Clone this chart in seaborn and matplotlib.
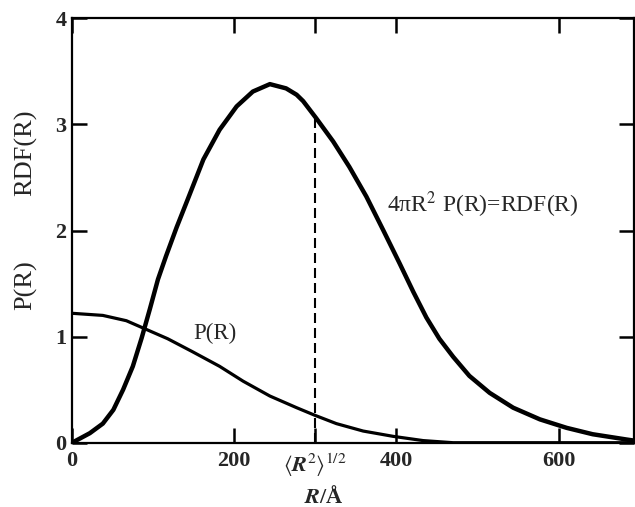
import matplotlib
matplotlib.use("Agg")
import matplotlib.pyplot as plt
import seaborn as sns
import pandas as pd

# RDF(R) = 4*pi*R^2*P(R) curve
rdf_R = [0, 5, 22, 38, 51, 63, 75, 86, 96, 106, 116, 129, 143, 162, 182, 203, 223,
         244, 264, 277, 285, 301, 322, 342, 363, 384, 404, 421, 437, 453, 470, 490, 515,
         544, 577, 610, 642, 684, 693]
rdf_val = [0.0, 0.02, 0.09, 0.18, 0.31, 0.50, 0.72, 0.99, 1.26, 1.54, 1.76, 2.03, 2.30,
           2.67, 2.95, 3.17, 3.31, 3.38, 3.34, 3.28, 3.22, 3.06, 2.84, 2.60, 2.32, 2.00,
           1.69, 1.42, 1.18, 0.98, 0.81, 0.63, 0.47, 0.33, 0.22, 0.14, 0.08, 0.03, 0.02]

# P(R) curve
p_R = [0, 38, 67, 88, 118, 148, 182, 211, 244, 277, 299, 326, 359, 396, 433, 470, 693]
p_val = [1.22, 1.20, 1.15, 1.08, 0.98, 0.86, 0.72, 0.58, 0.44, 0.33, 0.26, 0.18, 0.11,
         0.06, 0.02, 0.0, 0.0]

# dashed marker at <R^2>^{1/2}
rms_R = [300, 300]
rms_val = [0.0, 3.06]

x_ticks = [0, 200, 300, 400, 600]
x_ticklabels = ["0", "200", r"$\langle \boldsymbol{R}^{2}\rangle^{1/2}$", "400", "600"]
y_ticks = [0, 1, 2, 3, 4]
y_ticklabels = ["0", "1", "2", "3", "4"]

sns.set_style("ticks")
plt.rcParams["font.family"] = ["Liberation Serif", "DejaVu Serif"]
plt.rcParams["mathtext.fontset"] = "stix"

fig = plt.figure(figsize=(6.35, 5.07), dpi=100)
ax = fig.add_axes([0.1134, 0.1268, 0.885, 0.837])

df_rdf = pd.DataFrame({"R": rdf_R, "v": rdf_val})
df_p = pd.DataFrame({"R": p_R, "v": p_val})
df_rms = pd.DataFrame({"R": rms_R, "v": rms_val})

sns.lineplot(data=df_rdf, x="R", y="v", ax=ax, color="black", linewidth=3.2,
             estimator=None, sort=False, solid_joinstyle="round", solid_capstyle="round")
sns.lineplot(data=df_p, x="R", y="v", ax=ax, color="black", linewidth=2.3,
             estimator=None, sort=False, solid_joinstyle="round")
sns.lineplot(data=df_rms, x="R", y="v", ax=ax, color="black", linewidth=1.5,
             estimator=None, sort=False, linestyle=(0, (4.8, 2.4)))

ax.set_xlim(0, 693)
ax.set_ylim(0, 4)
ax.set_xlabel("")
ax.set_ylabel("")

ax.set_xticks(x_ticks)
ax.set_xticklabels(x_ticklabels, fontsize=16, fontweight="bold")
ax.set_yticks(y_ticks)
ax.set_yticklabels(y_ticklabels, fontsize=16, fontweight="bold")
ax.tick_params(axis="both", direction="in", length=10.5, width=1.8, color="black",
               top=True, right=True, pad=4)
ax.tick_params(axis="x", pad=6)
for s in ax.spines.values():
    s.set_visible(True)
    s.set_linewidth(1.6)
    s.set_color("black")

ax.text(389, 2.24, r"4πR$^{2}$ P(R)=RDF(R)", fontsize=17, va="center", ha="left")
ax.text(149, 1.03, "P(R)", fontsize=16.5, va="center", ha="left")

fig.text(0.040, 1 - 153 / 507, "RDF(R)", rotation=90, fontsize=19, va="center", ha="center")
fig.text(0.040, 1 - 285 / 507, "P(R)", rotation=90, fontsize=19, va="center", ha="center")
fig.text(324 / 635, 1 - 497 / 507, r"$\boldsymbol{R}$/Å", fontsize=16, fontweight="bold",
         va="center", ha="center")

fig.savefig("out.png", dpi=100)
